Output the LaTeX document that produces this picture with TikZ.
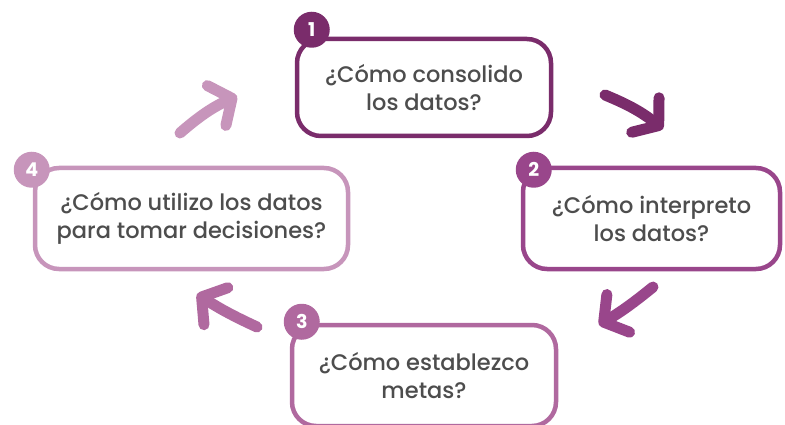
\documentclass[tikz,border=0pt]{standalone}
\usepackage{fontspec}
\setmainfont{Poppins}[UprightFont=* Medium, BoldFont=* Bold]
\usetikzlibrary{arrows.meta, positioning}

\definecolor{uno}{HTML}{7A2C6B}
\definecolor{dos}{HTML}{99468B}
\definecolor{tres}{HTML}{B0699F}
\definecolor{cuatro}{HTML}{C795BB}
\definecolor{texto}{HTML}{4D4D4D}

\tikzset{
  pregunta/.style={draw=#1, line width=4.5pt, rounded corners=24pt, fill=white,
    align=center, text=texto, font=\fontsize{22.5}{28}\selectfont},
  badge/.style={circle, fill=#1, text=white, inner sep=0pt, minimum size=36pt,
    font=\fontsize{19}{19}\selectfont\bfseries},
  flecha/.style={draw=#1, line width=11pt, line cap=round,
    -{Straight Barb[round, length=17pt, width=44pt]}}
}

\begin{document}
\begin{tikzpicture}[x=1pt, y=-1pt]
  \useasboundingbox (0,0) rectangle (785,425);

  % the four questions
  \node[pregunta=uno, minimum width=254pt, minimum height=97pt] (b1) at (424,87.5)
    {¿Cómo consolido\\los datos?};
  \node[pregunta=dos, minimum width=257pt, minimum height=101pt] (b2) at (651.5,218.5)
    {¿Cómo interpreto\\los datos?};
  \node[pregunta=tres, minimum width=264pt, minimum height=101pt] (b3) at (424,375.5)
    {¿Cómo establezco\\metas?};
  \node[pregunta=cuatro, minimum width=313pt, minimum height=101pt] (b4) at (191.5,218.5)
    {¿Cómo utilizo los datos\\para tomar decisiones?};

  % numbers on the corners
  \node[badge=uno] (n1) at ([shift={(17,-7)}]b1.north west) {1};
  \node[badge=dos] (n2) at ([shift={(13,4)}]b2.north west) {2};
  \node[badge=tres] (n3) at ([shift={(12,-1)}]b3.north west) {3};
  \node[badge=cuatro] (n4) at ([shift={(-1,4)}]b4.north west) {4};

  % arrow ends
  \coordinate (a1s) at (605,95);
  \coordinate (a1e) at (663,129);
  \coordinate (a2s) at (653,287);
  \coordinate (a2e) at (599,325);
  \coordinate (a3s) at (257,327);
  \coordinate (a3e) at (197,294);
  \coordinate (a4s) at (180,133);
  \coordinate (a4e) at (237,96);

  \draw[flecha=uno] (a1s) to[bend left=8] (a1e);
  \draw[flecha=dos] (a2s) to[bend left=4] (a2e);
  \draw[flecha=tres] (a3s) to[bend left=4] (a3e);
  \draw[flecha=cuatro] (a4s) to[bend left=8] (a4e);
\end{tikzpicture}
\end{document}
